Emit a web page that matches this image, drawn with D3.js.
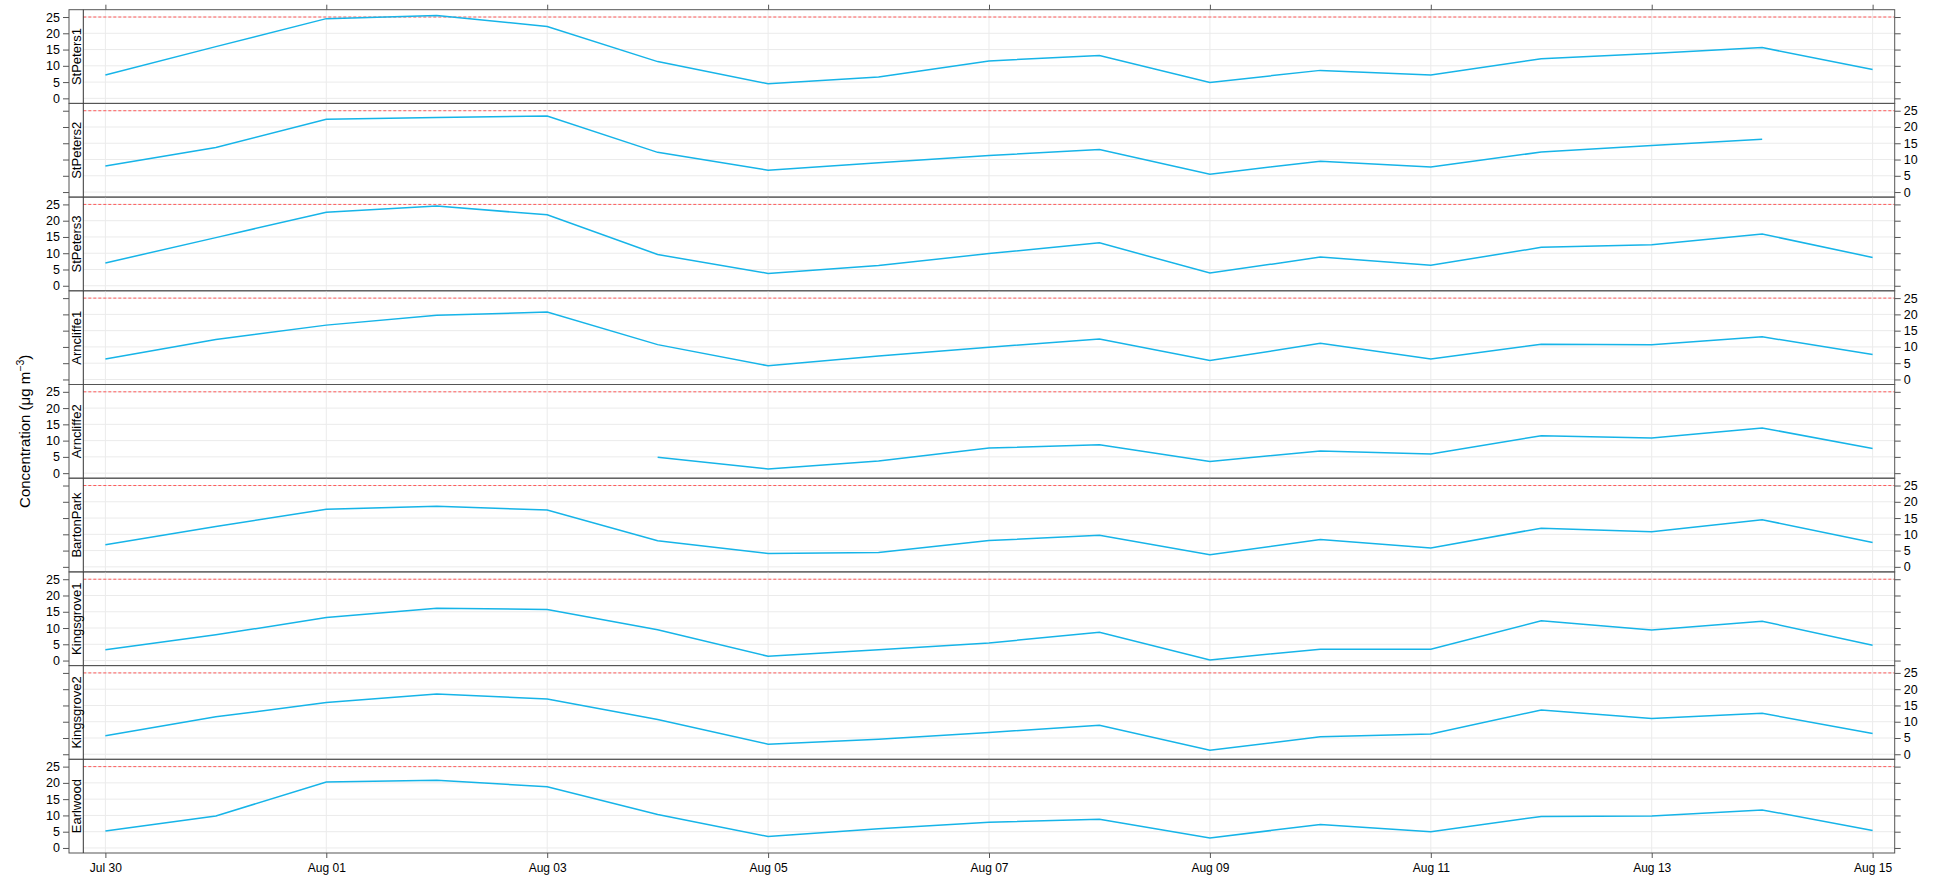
<!DOCTYPE html>
<html>
<head>
<meta charset="utf-8">
<script src="https://cdn.jsdelivr.net/npm/d3@7"></script>
<style>
  body { margin: 0; background: #fff; }
  text { font-family: "Liberation Sans", Arial, sans-serif; fill: #000; }
</style>
</head>
<body>
<div id="chart"></div>
<script>
const dates = ["2011-07-30", "2011-07-31", "2011-08-01", "2011-08-02", "2011-08-03", "2011-08-04",
    "2011-08-05", "2011-08-06", "2011-08-07", "2011-08-08", "2011-08-09", "2011-08-10",
    "2011-08-11", "2011-08-12", "2011-08-13", "2011-08-14", "2011-08-15"];

const sites = ["StPeters1", "StPeters2", "StPeters3", "Arncliffe1", "Arncliffe2",
    "BartonPark", "Kingsgrove1", "Kingsgrove2", "Earlwood"];

const stPeters1 = [7.2, 15.9, 24.5, 25.5, 22.1, 11.3, 4.5, 6.6, 11.5, 13.2, 4.9, 8.6, 7.2, 12.2, 13.8, 15.6, 8.9];
const stPeters2 = [8.0, 13.7, 22.4, 22.9, 23.4, 12.2, 6.7, 9.0, 11.2, 13.1, 5.5, 9.5, 7.7, 12.3, 14.3, 16.2, null];
const stPeters3 = [7.0, 14.8, 22.6, 24.5, 21.8, 9.6, 3.8, 6.2, 9.9, 13.2, 3.9, 8.8, 6.3, 11.8, 12.6, 15.9, 8.7];
const arncliffe1 = [6.3, 12.3, 16.7, 19.7, 20.7, 10.7, 4.2, 7.2, 9.9, 12.4, 5.8, 11.1, 6.3, 10.8, 10.7, 13.1, 7.7];
const arncliffe2 = [null, null, null, null, null, 4.9, 1.3, 3.7, 7.7, 8.7, 3.6, 6.8, 5.9, 11.5, 10.8, 13.9, 7.6];
const bartonPark = [6.8, 12.4, 17.7, 18.6, 17.5, 8.0, 4.1, 4.4, 8.1, 9.7, 3.7, 8.4, 5.8, 11.9, 10.8, 14.5, 7.5];
const kingsgrove1 = [3.3, 7.9, 13.2, 16.1, 15.7, 9.5, 1.3, 3.3, 5.4, 8.7, 0.2, 3.5, 3.5, 12.2, 9.4, 12.1, 4.7];
const kingsgrove2 = [5.7, 11.5, 15.9, 18.5, 17.0, 10.7, 3.1, 4.6, 6.7, 8.9, 1.2, 5.4, 6.2, 13.6, 11.0, 12.6, 6.4];
const earlwood = [5.2, 9.8, 20.3, 20.8, 18.8, 10.3, 3.5, 5.9, 7.9, 8.8, 3.1, 7.2, 5.0, 9.7, 9.8, 11.7, 5.4];

const series = [stPeters1, stPeters2, stPeters3, arncliffe1, arncliffe2,
    bartonPark, kingsgrove1, kingsgrove2, earlwood];

const yTicks = [0, 5, 10, 15, 20, 25];
const xTickDates = ["2011-07-30", "2011-08-01", "2011-08-03", "2011-08-05", "2011-08-07",
    "2011-08-09", "2011-08-11", "2011-08-13", "2011-08-15"];
const limitValue = 25;

const width = 1933,
    height = 882;

const stripLeft = 69,
    plotLeft = 83.3,
    plotRight = 1894.7,
    panelTop = 9.7,
    panelH = 93.7;

const parse = d3.timeParse("%Y-%m-%d");
const days = dates.map(parse);
const xTicks = xTickDates.map(parse);

const x = d3.scaleTime()
    .domain([d3.timeMinute.offset(days[0], -288), d3.timeMinute.offset(days[days.length - 1], 288)])
    .range([plotLeft, plotRight]);

const y = d3.scaleLinear()
    .domain([-1.55, 27.25])
    .range([panelH, 0]);

const svg = d3.select("#chart")
    .append("svg")
    .attr("width", width)
    .attr("height", height);

const line = d3.line()
    .defined(d => d.v != null)
    .x(d => x(d.date))
    .y(d => y(d.v));

sites.forEach((site, i) => {
    const g = svg.append("g")
        .attr("transform", `translate(0,${panelTop + i * panelH})`);

    // grid
    g.selectAll(".hgrid")
        .data(yTicks)
        .join("line")
        .attr("x1", plotLeft)
        .attr("x2", plotRight)
        .attr("y1", d => y(d))
        .attr("y2", d => y(d))
        .attr("stroke", "#ebebeb")
        .attr("stroke-width", 1);

    g.selectAll(".vgrid")
        .data(xTicks)
        .join("line")
        .attr("x1", d => x(d))
        .attr("x2", d => x(d))
        .attr("y1", 0)
        .attr("y2", panelH)
        .attr("stroke", "#ebebeb")
        .attr("stroke-width", 1);

    // limit line
    g.append("line")
        .attr("x1", plotLeft)
        .attr("x2", plotRight)
        .attr("y1", y(limitValue))
        .attr("y2", y(limitValue))
        .attr("stroke", "#ff5a5a")
        .attr("stroke-width", 1)
        .attr("stroke-dasharray", "3,2");

    // data
    const pts = days.map((d, j) => ({ date: d, v: series[i][j] }));
    g.append("path")
        .datum(pts)
        .attr("d", line)
        .attr("fill", "none")
        .attr("stroke", "#16b4e8")
        .attr("stroke-width", 1.5);

    // frame and strip
    g.append("rect")
        .attr("x", stripLeft)
        .attr("y", 0)
        .attr("width", plotRight - stripLeft)
        .attr("height", panelH)
        .attr("fill", "none")
        .attr("stroke", "#555")
        .attr("stroke-width", 1);

    g.append("line")
        .attr("x1", plotLeft)
        .attr("x2", plotLeft)
        .attr("y1", 0)
        .attr("y2", panelH)
        .attr("stroke", "#333")
        .attr("stroke-width", 1);

    g.append("text")
        .attr("transform", `translate(81.2,${panelH / 2}) rotate(-90)`)
        .attr("text-anchor", "middle")
        .style("font-size", "13px")
        .text(site);

    // y axes, labels alternate left / right
    const left = g.append("g")
        .attr("transform", `translate(${stripLeft},0)`)
        .call(d3.axisLeft(y).tickValues(yTicks).tickSize(6).tickPadding(3));
    const right = g.append("g")
        .attr("transform", `translate(${plotRight},0)`)
        .call(d3.axisRight(y).tickValues(yTicks).tickSize(6).tickPadding(3));

    [left, right].forEach(a => {
        a.select(".domain").remove();
        a.selectAll("line").attr("stroke", "#555");
        a.selectAll("text").style("font-size", "12.5px").attr("fill", "#000");
    });
    if (i % 2 === 0) right.selectAll("text").remove();
    else left.selectAll("text").remove();
});

// x axes
const fmt = d3.timeFormat("%b %d");

const xTop = svg.append("g")
    .attr("transform", `translate(0,${panelTop})`)
    .call(d3.axisTop(x).tickValues(xTicks).tickSize(5).tickFormat(""));
xTop.select(".domain").remove();
xTop.selectAll("line").attr("stroke", "#555");

const xBottom = svg.append("g")
    .attr("transform", `translate(0,${panelTop + sites.length * panelH})`)
    .call(d3.axisBottom(x).tickValues(xTicks).tickSize(5).tickPadding(5).tickFormat(fmt));
xBottom.select(".domain").remove();
xBottom.selectAll("line").attr("stroke", "#555");
xBottom.selectAll("text").style("font-size", "12px").attr("fill", "#000");

// y title
const title = svg.append("text")
    .attr("transform", `translate(30,${panelTop + sites.length * panelH / 2}) rotate(-90)`)
    .attr("text-anchor", "middle")
    .style("font-size", "15px");
title.append("tspan").text("Concentration (\u03bcg m");
title.append("tspan").attr("dy", "-6").style("font-size", "10.5px").text("\u22123");
title.append("tspan").attr("dy", "6").text(")");
</script>
</body>
</html>
